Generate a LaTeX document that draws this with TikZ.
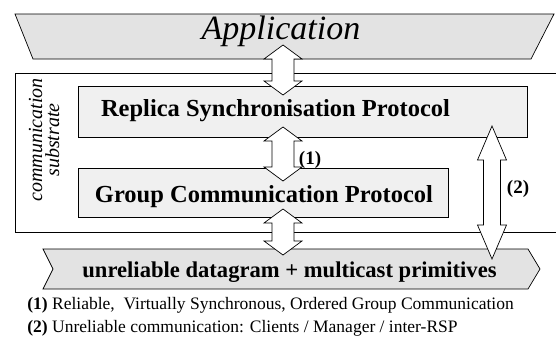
\documentclass[tikz,border=0pt]{standalone}
\usepackage{fontspec}
\setmainfont{Liberation Serif}
\definecolor{layergray}{gray}{0.89}
\definecolor{boxgray}{gray}{0.94}

\begin{document}
\begin{tikzpicture}[x=1pt,y=-1pt,line width=0.7pt,line join=miter,
  bigarrow/.style={draw,fill=white},
  lbl/.style={font=\fontsize{24.5}{26}\selectfont\bfseries,anchor=base}]
\useasboundingbox (0,0) rectangle (556,351);
\draw[fill=layergray] (15,14) -- (554,14) -- (531,59) -- (33,59) -- cycle;
\node[anchor=base,font=\fontsize{34}{36}\selectfont\itshape] (app) at (281,39) {Application};
\draw (562,73) -- (15,73) -- (15,232) -- (562,232);
\node[rotate=90,align=center,font=\fontsize{20}{17}\selectfont\itshape] (sub) at (44,140) {communication\\substrate};
\draw[fill=boxgray] (78,86) rectangle (527,137);
\node[lbl] (rsp) at (275.5,116) {Replica Synchronisation Protocol};
\draw[fill=boxgray] (78,168) rectangle (448,217);
\node[lbl] (gcp) at (264,202) {Group Communication Protocol};
\draw[fill=layergray] (43,249) -- (528,249) -- (540,269) -- (528,289) -- (43,289) -- (53,269) -- cycle;
\node[anchor=base,font=\fontsize{22.6}{24}\selectfont\bfseries] (net) at (289.5,277) {unreliable datagram + multicast primitives};
\foreach \ya/\yb in {45/95,127/181,209/255}
  \draw[bigarrow] (283,\ya) -- (302,\ya+14) -- (294,\ya+14) -- (294,\yb-14) -- (302,\yb-14) -- (283,\yb)
    -- (264,\yb-14) -- (272,\yb-14) -- (272,\ya+14) -- (264,\ya+14) -- cycle;
\draw[bigarrow] (492,126) -- (506.5,160) -- (500.5,160) -- (500.5,225) -- (506.5,225) -- (492,259)
  -- (477.5,225) -- (483.5,225) -- (483.5,160) -- (477.5,160) -- cycle;
\node[font=\fontsize{19}{20}\selectfont\bfseries] (one) at (310,160) {(1)};
\node[font=\fontsize{19}{20}\selectfont\bfseries] (two) at (518,189) {(2)};
\node[anchor=base west,inner sep=0pt,font=\fontsize{17.5}{18}\selectfont] (leg1) at (27,309) {\textbf{(1)} Reliable,\ \ Virtually Synchronous, Ordered Group Communication};
\node[anchor=base west,inner sep=0pt,font=\fontsize{17.5}{18}\selectfont] (leg2) at (27,332) {\textbf{(2)} Unreliable communication: Clients / Manager / inter-RSP};
\end{tikzpicture}
\end{document}
